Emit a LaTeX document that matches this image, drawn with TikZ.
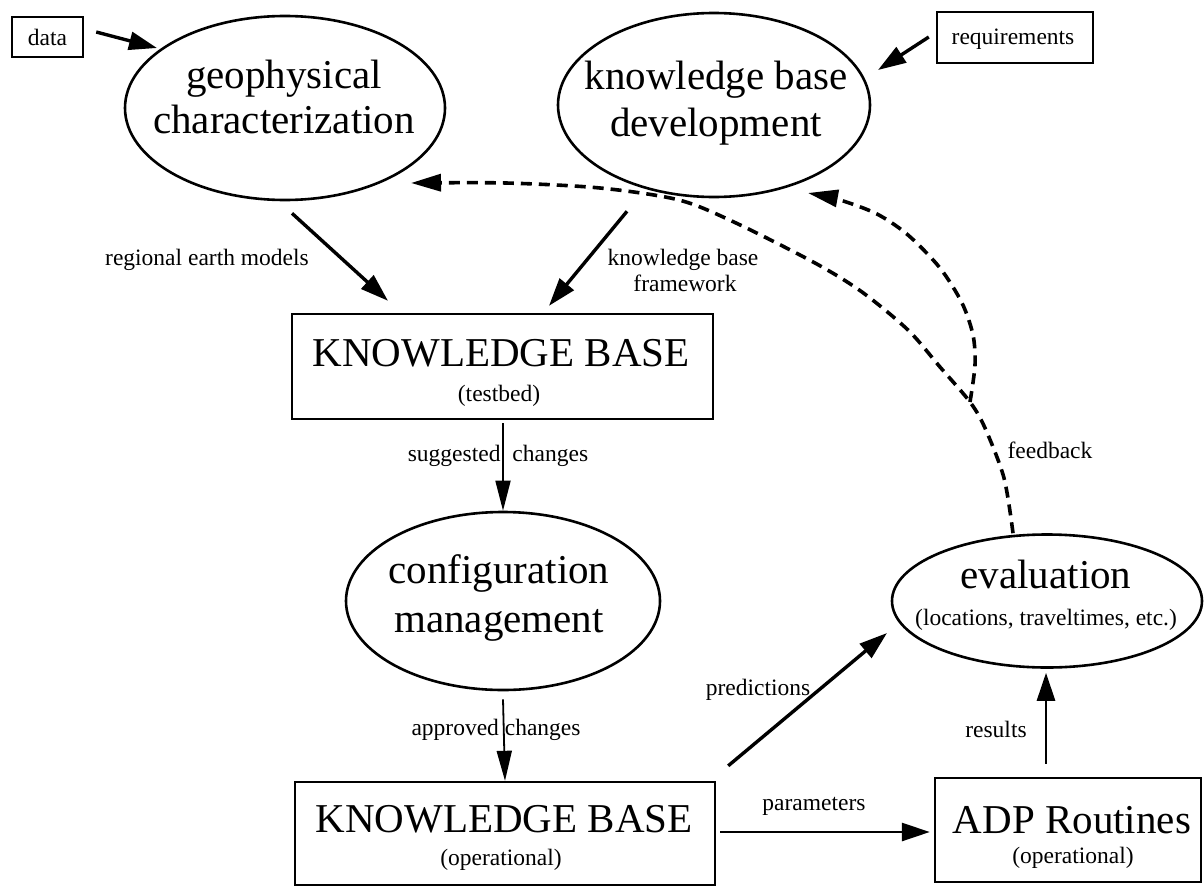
\documentclass[tikz,border=0pt]{standalone}
\usepackage{fontspec}
\setmainfont{Liberation Serif}
\usetikzlibrary{shapes.geometric,arrows.meta,calc}

\begin{document}
\begin{tikzpicture}[x=1pt,y=-1pt,
  box/.style={draw, line width=2.4pt, rectangle, inner sep=0pt},
  oval/.style={draw, line width=2.6pt, ellipse, inner sep=0pt},
  big/.style={font=\fontsize{41}{45}\selectfont, anchor=base, inner sep=0pt},
  small/.style={font=\fontsize{23.5}{26}\selectfont, anchor=base, inner sep=0pt},
  thickarrow/.style={line width=3.4pt, -{Triangle[length=28pt,width=18pt]}},
  thinarrow/.style={line width=1.8pt, -{Triangle[length=30pt,width=15pt]}},
  feedbackarrow/.style={line width=3.6pt, dash pattern=on 11pt off 7pt, -{Triangle[length=30pt,width=17pt]}},
]
\fill[white] (0,0) rectangle (1204,886);
\useasboundingbox (0,0) rectangle (1204,886);

% input boxes
\node[box, minimum width=71pt, minimum height=40pt] (data) at (47.5,37) {};
\node[small] (data-t) at (47.5,45) {data};
\node[box, minimum width=156pt, minimum height=51pt] (req) at (1015,37.5) {};
\node[small] (req-t) at (1013,44) {requirements};

% development processes
\node[oval, minimum width=320pt, minimum height=184pt] (geo) at (285,108) {};
\node[big] (geo-a) at (284,88) {geophysical};
\node[big] (geo-b) at (284,133) {characterization};

\node[oval, minimum width=312pt, minimum height=184pt] (kbd) at (714,105) {};
\node[big] (kbd-a) at (716,89) {knowledge base};
\node[big] (kbd-b) at (716,136) {development};

% knowledge base (testbed)
\node[box, minimum width=421pt, minimum height=105pt] (kbt) at (502.5,366.5) {};
\node[big] (kbt-a) at (501,366) {KNOWLEDGE BASE};
\node[small] (kbt-b) at (499,401) {(testbed)};

% configuration management
\node[oval, minimum width=314pt, minimum height=178pt] (conf) at (503,601) {};
\node[big] (conf-a) at (499,583) {configuration};
\node[big] (conf-b) at (499,632) {management};

% knowledge base (operational)
\node[box, minimum width=420pt, minimum height=103pt] (kbo) at (505,833.5) {};
\node[big] (kbo-a) at (504,832) {KNOWLEDGE BASE};
\node[small] (kbo-b) at (501,865) {(operational)};

% ADP routines
\node[box, minimum width=266pt, minimum height=104pt] (adp) at (1068,830) {};
\node[big] (adp-a) at (1072,833) {ADP Routines};
\node[small] (adp-b) at (1073,863) {(operational)};

% evaluation
\node[oval, minimum width=310pt, minimum height=133pt] (eval) at (1047,601) {};
\node[big] (eval-a) at (1046,588) {evaluation};
\node[small] (eval-b) at (1046,625) {(locations, traveltimes, etc.)};

% connector labels
\node[small] (l-rem) at (207,265) {regional earth models};
\node[small] (l-kbf1) at (683,265) {knowledge base};
\node[small] (l-kbf2) at (685,291) {framework};
\node[small] (l-sug) at (498,461) {suggested\hspace{12pt}changes};
\node[small] (l-app) at (496,735) {approved changes};
\node[small] (l-pred) at (758,695) {predictions};
\node[small] (l-par) at (814,810) {parameters};
\node[small] (l-res) at (996,737) {results};
\node[small] (l-fb) at (1050,458) {feedback};

% solid connectors
\draw[thickarrow] ($(data.east)+(12,-5)$) -- ($(geo.center)+(-128,-60)$);
\draw[thickarrow] ($(req.west)+(-7,-0.5)$) -- ($(kbd.center)+(164,-35)$);
\draw[thickarrow] ($(geo.south)+(7,12)$) -- ($(kbt.north)+(-114.5,-12)$);
\draw[thickarrow] ($(kbd.south)+(-87,13)$) -- ($(kbt.north)+(46.5,-7)$);
\draw[thinarrow] ($(kbt.south)+(0.5,3)$) -- (conf.north);
\draw[thinarrow] ($(conf.south)+(0,8)$) -- (kbo.north);
\draw[thickarrow, line width=2.8pt] ($(kbo.east)+(4,-1.5)$) -- ($(adp.west)+(-4,2)$);
\draw[thickarrow] ($(kbo.north east)+(12,-15)$) -- ($(eval.center)+(-160,32)$);
\draw[thickarrow, line width=2.8pt] ($(adp.north)+(-22,-13)$) -- ($(eval.south)+(-1,4)$);

% feedback loops
\coordinate (fork) at (970,402);
\draw[feedbackarrow] plot[smooth] coordinates {($(eval.north)+(-34,0)$) (1004,478) (985,428) (fork) (940,367) (908,330) (862,292) (815,263) (736,223) (679,200) (600,188) (506,183) ($(geo.center)+(126,75)$)};
\draw[feedbackarrow] plot[smooth] coordinates {(fork) (975,365) (973,335) (962,303) (940,268) (908,235) (877,214) (840,200) ($(kbd.center)+(94,88)$)};
\end{tikzpicture}
\end{document}
